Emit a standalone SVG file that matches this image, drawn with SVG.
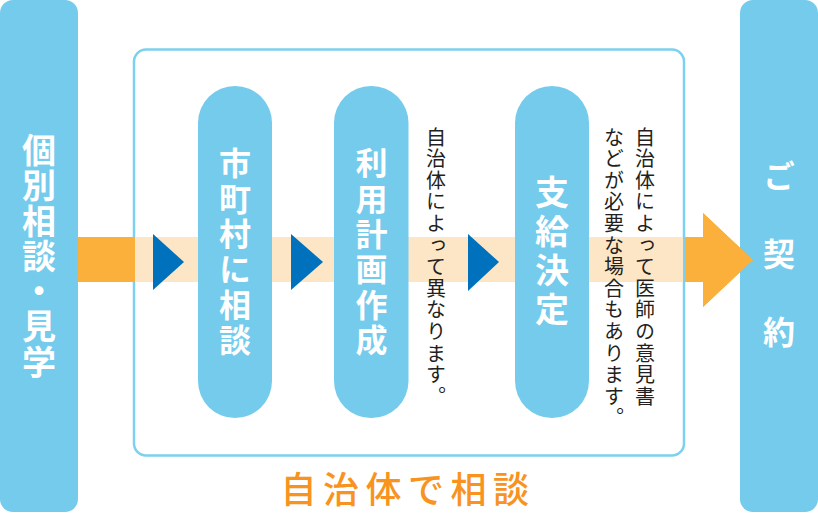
<svg xmlns="http://www.w3.org/2000/svg" width="818" height="516" viewBox="0 0 818 516">
<style>
.box{fill:#74cbec}
.wt{fill:#fff;font-family:"Noto Sans CJK JP",sans-serif;font-weight:700;writing-mode:vertical-rl}
.note{fill:#231f20;font-family:"Noto Sans CJK JP",sans-serif;font-size:20px;letter-spacing:1.6px;writing-mode:vertical-rl}
.tri{fill:#0071bc}
.dark{fill:#fbb03b}
</style>
<rect x="0" y="0" width="818" height="516" fill="#fff"/>
<g id="frame">
<rect x="134" y="49.5" width="550" height="406" rx="12" fill="none" stroke="#7dd0ef" stroke-width="2.5"/>
</g>
<g id="connectors">
<rect class="dark" x="78" y="237" width="57" height="45"/>
<rect x="135" y="237" width="548" height="45" fill="#fde6c6"/>
<polygon class="dark" points="685,237 703,237 703,213 753,260 703,307 703,282 685,282"/>
</g>
<g id="node-left">
<rect class="box" x="0" y="0" width="78" height="512" rx="13"/>
<text class="wt" x="39" y="133" font-size="34" letter-spacing="1.3">個別相談・見学</text>
</g>
<g id="node-right">
<rect class="box" x="740" y="0" width="78" height="512" rx="13"/>
<polygon class="dark" points="740,237 740,249.5 753,260 740,270.5 740,282"/>
<polygon class="dark" points="703,213 753,260 703,307"/>
<text class="wt" x="779" y="160" font-size="32" letter-spacing="46">ご契約</text>
</g>
<g id="node-1">
<rect class="box" x="198" y="86" width="74" height="332" rx="37"/>
<text class="wt" x="235" y="147" font-size="32" letter-spacing="3.4">市町村に相談</text>
</g>
<g id="node-2">
<rect class="box" x="334" y="86" width="74.5" height="332" rx="37"/>
<text class="wt" x="371.5" y="147" font-size="32" letter-spacing="3.4">利用計画作成</text>
</g>
<g id="node-3">
<rect class="box" x="515" y="86" width="74" height="332" rx="37"/>
<text class="wt" x="552" y="175" font-size="34" letter-spacing="5">支給決定</text>
</g>
<g id="note-1">
<text class="note" x="436" y="127">自治体によって異なります。</text>
</g>
<g id="note-2">
<text class="note" x="645" y="127">自治体によって医師の意見書</text>
<text class="note" x="614" y="127">などが必要な場合もあります。</text>
</g>
<g id="arrows">
<polygon class="tri" points="153,234 184,262 153,290"/>
<polygon class="tri" points="291,234 323,262 291,290"/>
<polygon class="tri" points="468,234 499,262 468,291"/>
</g>
<g id="caption">
<text x="408" y="503" text-anchor="middle" font-family="'Noto Sans CJK JP',sans-serif" font-size="36" font-weight="500" letter-spacing="6.5" fill="#f7931e">自治体で相談</text>
</g>
</svg>
